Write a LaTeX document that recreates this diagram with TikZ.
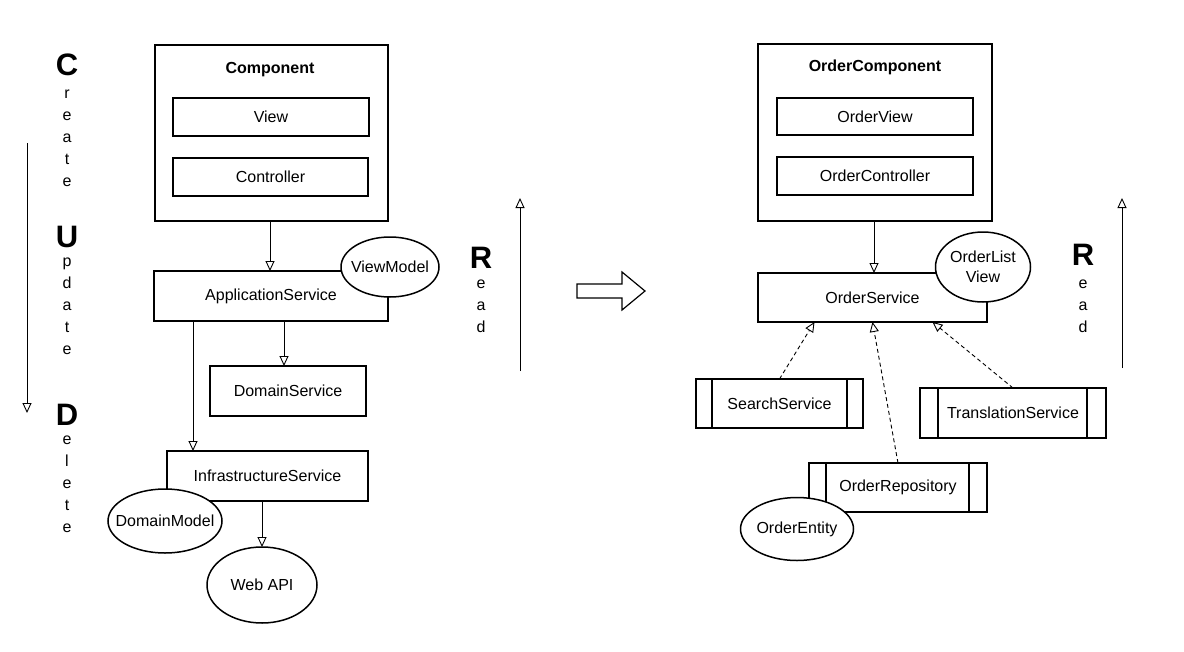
\documentclass[tikz,border=0pt]{standalone}
\usepackage{fontspec}
\setmainfont{Liberation Sans}
\usetikzlibrary{arrows.meta,shapes.geometric}
\begin{document}
\begin{tikzpicture}[x=1pt,y=-1pt,
  every node/.style={font=\fontsize{16}{20}\selectfont},
  box/.style={draw, line width=1.3pt, fill=white, inner sep=0pt, outer sep=0pt},
  ell/.style={draw, ellipse, line width=1.5pt, fill=white, inner sep=0pt, outer sep=0pt},
  lbl/.style={inner sep=0pt, align=center},
  arr/.style={line width=0.9pt, -{Triangle[open,length=10pt,width=9pt]}},
  darr/.style={arr, dash pattern=on 4pt off 3pt},
  big/.style={font=\fontsize{31}{31}\selectfont\bfseries, anchor=base, inner sep=0pt},
  letter/.style={anchor=base, inner sep=0pt},
  title/.style={font=\fontsize{16}{20}\selectfont\bfseries, inner sep=0pt},
]
\useasboundingbox (0,0) rectangle (1184,651);

% ---------- CRUD letters ----------
\node[big] (C) at (67,75) {C};
\foreach \l [count=\i] in {r,e,a,t,e} \node[letter] (cr\i) at (67,76+22*\i) {\l};
\node[big] (U) at (67,247) {U};
\foreach \l [count=\i] in {p,d,a,t,e} \node[letter] (up\i) at (67,244+22*\i) {\l};
\node[big] (D) at (67,425) {D};
\foreach \l [count=\i] in {e,l,e,t,e} \node[letter] (de\i) at (67,422+22*\i) {\l};
\coordinate (crudtop) at (27,143);
\coordinate (crudbot) at (27,413);
\draw[arr] (crudtop) -- (crudbot);

% ---------- left diagram ----------
\node[box, minimum width=233pt, minimum height=176pt] (comp) at (271.5,133) {};
\node[title] (comptitle) at (270,70) {Component};
\node[box, minimum width=196pt, minimum height=38pt] (view) at (271,117) {View};
\node[box, minimum width=195pt, minimum height=38pt] (ctrl) at (270.5,177) {Controller};
\node[box, minimum width=234pt, minimum height=50pt] (app) at (271,296) {ApplicationService};
\node[box, minimum width=156pt, minimum height=50pt] (dom) at (288,391) {DomainService};
\node[box, minimum width=201pt, minimum height=50pt] (infra) at (267.5,476) {InfrastructureService};
\node[ell, minimum width=98pt, minimum height=60pt] (vm) at (390,267) {};
\node[lbl] (vmt) at (vm.center) {ViewModel};
\node[ell, minimum width=114pt, minimum height=64pt] (dm) at (165,521) {};
\node[lbl] (dmt) at (dm.center) {DomainModel};
\node[ell, minimum width=110pt, minimum height=76pt] (web) at (262,585) {};
\node[lbl] (webt) at (web.center) {Web API};

\draw[arr] ([xshift=-1.5pt]comp.south) -- ([xshift=-1pt]app.north);
\draw[arr] ([xshift=-4pt]dom.north |- app.south) -- ([xshift=-4pt]dom.north);
\draw[arr] ([xshift=26pt]infra.north west |- app.south) -- ([xshift=26pt]infra.north west);
\draw[arr] (web.north |- infra.south) -- (web.north);

% ---------- Read (left) ----------
\node[big] (R1) at (481,268) {R};
\foreach \l [count=\i] in {e,a,d} \node[letter] (ra\i) at (481,266+22*\i) {\l};
\coordinate (r1bot) at (520,371);
\coordinate (r1top) at (520,198);
\draw[arr] (r1bot) -- (r1top);

% ---------- block arrow ----------
\draw[line width=1.2pt, fill=white] (577,284) -- (622,284) -- (622,272) -- (645,291) -- (622,310) -- (622,298) -- (577,298) -- cycle;

% ---------- right diagram ----------
\node[box, minimum width=234pt, minimum height=177pt] (ocomp) at (875,132.5) {};
\node[title] (ocomptitle) at (875,67) {OrderComponent};
\node[box, minimum width=196pt, minimum height=37pt] (oview) at (875,116.5) {OrderView};
\node[box, minimum width=196pt, minimum height=38pt] (octrl) at (875,176) {OrderController};
\node[box, minimum width=229pt, minimum height=49pt] (osvc) at (872.5,297.5) {OrderService};
\node[ell, minimum width=95pt, minimum height=70pt] (olv) at (983,267) {};
\node[lbl, font=\fontsize{16}{20}\selectfont] (olvt) at (olv.center) {OrderList\\View};

\node[box, minimum width=167pt, minimum height=49pt] (search) at (779.5,403.5) {SearchService};
\draw[line width=1.3pt] ([xshift=16pt]search.north west) -- ([xshift=16pt]search.south west)
  ([xshift=-16pt]search.north east) -- ([xshift=-16pt]search.south east);
\node[box, minimum width=186pt, minimum height=50pt] (trans) at (1013,413) {TranslationService};
\draw[line width=1.3pt] ([xshift=18pt]trans.north west) -- ([xshift=18pt]trans.south west)
  ([xshift=-19pt]trans.north east) -- ([xshift=-19pt]trans.south east);
\node[box, minimum width=178pt, minimum height=49pt] (repo) at (898,487.5) {OrderRepository};
\draw[line width=1.3pt] ([xshift=17pt]repo.north west) -- ([xshift=17pt]repo.south west)
  ([xshift=-18pt]repo.north east) -- ([xshift=-18pt]repo.south east);
\node[ell, minimum width=113pt, minimum height=63pt] (oent) at (797,529) {};
\node[lbl] (oentt) at (oent.center) {OrderEntity};

\draw[arr] ([xshift=-1pt]ocomp.south) -- ([xshift=1.5pt]osvc.north);
\draw[darr] (search.north) -- ([xshift=-58pt]osvc.south);
\draw[darr] (repo.north) -- (osvc.south);
\draw[darr] (trans.north) -- ([xshift=60pt]osvc.south);

% ---------- Read (right) ----------
\node[big] (R2) at (1083,265) {R};
\foreach \l [count=\i] in {e,a,d} \node[letter] (rb\i) at (1083,266+22*\i) {\l};
\coordinate (r2bot) at (1122,368);
\coordinate (r2top) at (1122,198);
\draw[arr] (r2bot) -- (r2top);
\end{tikzpicture}
\end{document}
